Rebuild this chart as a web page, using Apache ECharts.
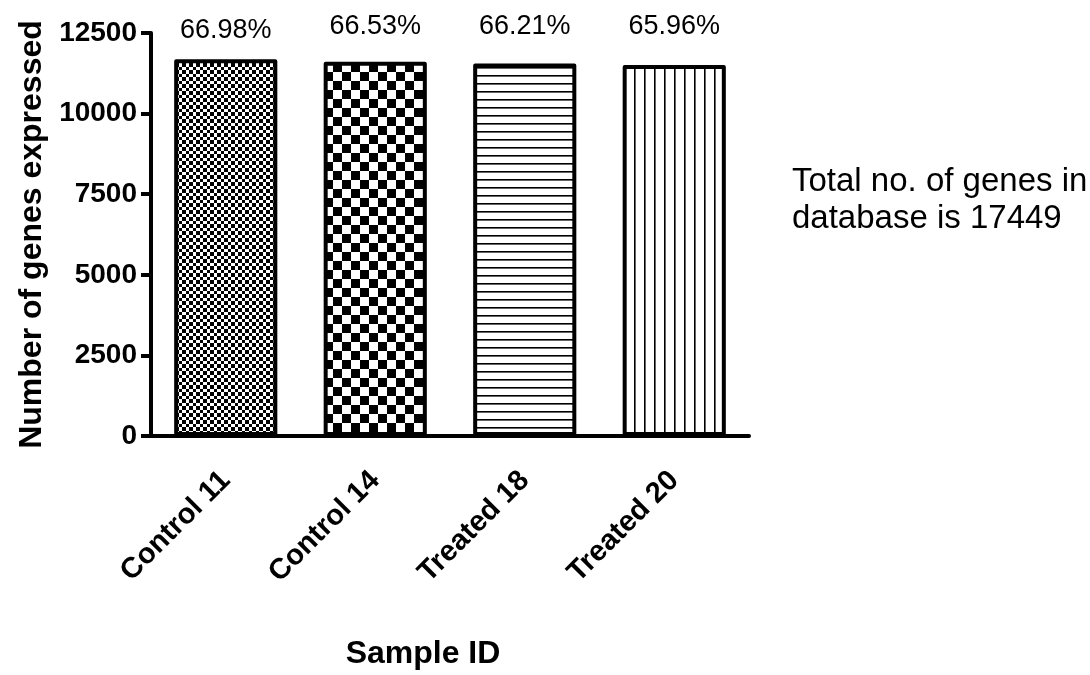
<!DOCTYPE html>
<html>
<head>
<meta charset="utf-8">
<script src="https://cdn.jsdelivr.net/npm/echarts@6/dist/echarts.min.js"></script>
<style>
  html, body { margin: 0; padding: 0; background: #ffffff; }
  #chart { width: 1090px; height: 675px; }
</style>
</head>
<body>
<div id="chart"></div>
<script>
// Genes expressed per sample
const samples = ['Control 11', 'Control 14', 'Treated 18', 'Treated 20'];
const genesExpressed = [11687, 11609, 11553, 11509];
const percentLabels = ['66.98%', '66.53%', '66.21%', '65.96%'];
const totalGenesNote = 'Total no. of genes in\ndatabase is 17449';

const FONT = '"Liberation Sans", Arial, Helvetica, sans-serif';

// Black-and-white fill patterns, one per bar
function makePattern(w, h, draw) {
  const c = document.createElement('canvas');
  c.width = w; c.height = h;
  const g = c.getContext('2d');
  g.fillStyle = '#ffffff';
  g.fillRect(0, 0, w, h);
  g.fillStyle = '#000000';
  draw(g);
  return { image: c, repeat: 'repeat' };
}
const fills = [
  makePattern(7, 7, g => { g.fillRect(0, 0, 4, 4); g.fillRect(4, 4, 3, 3); }),
  makePattern(18, 18, g => { g.fillRect(0, 0, 9, 9); g.fillRect(9, 9, 9, 9); }),
  makePattern(10, 8, g => { g.fillRect(0, 3, 10, 1.6); }),
  makePattern(10, 10, g => { g.fillRect(4, 0, 1.6, 10); })
];

const chart = echarts.init(document.getElementById('chart'), null, { renderer: 'canvas' });

chart.setOption({
  animation: false,
  backgroundColor: '#ffffff',
  grid: { left: 151, right: 341, top: 33, bottom: 234, containLabel: false },
  xAxis: {
    type: 'category',
    data: samples,
    name: 'Sample ID',
    nameLocation: 'middle',
    nameGap: 202,
    nameTextStyle: { fontFamily: FONT, fontWeight: 'bold', fontSize: 32, color: '#000', padding: [0, 54, 0, 0] },
    axisLine: { lineStyle: { color: '#000', width: 4 } },
    axisTick: { alignWithLabel: true, length: 10, lineStyle: { color: '#000', width: 4 } },
    axisLabel: {
      rotate: 45, margin: 40, interval: 0,
      fontFamily: FONT, fontWeight: 'bold', fontSize: 29, color: '#000'
    },
    splitLine: { show: false }
  },
  yAxis: {
    type: 'value',
    min: 0, max: 12500, interval: 2500,
    name: 'Number of genes expressed',
    nameLocation: 'middle',
    nameGap: 100,
    nameTextStyle: { fontFamily: FONT, fontWeight: 'bold', fontSize: 32, color: '#000' },
    axisLine: { show: true, lineStyle: { color: '#000', width: 4 } },
    axisTick: { show: true, length: 10, lineStyle: { color: '#000', width: 4 } },
    axisLabel: {
      margin: 14, formatter: v => String(v),
      fontFamily: FONT, fontWeight: 'bold', fontSize: 28, color: '#000'
    },
    splitLine: { show: false }
  },
  series: [{
    type: 'bar',
    barWidth: '69%',
    data: genesExpressed.map((v, i) => ({ value: v, itemStyle: { color: fills[i] } })),
    itemStyle: { borderColor: '#000', borderWidth: 4, borderJoin: 'round' },
    label: {
      show: true,
      position: 'top',
      formatter: p => percentLabels[p.dataIndex],
      fontFamily: FONT, fontSize: 27, color: '#000'
    },
    labelLayout: p => ({ y: p.dataIndex === 0 ? 31 : 27, align: 'center', verticalAlign: 'middle' })
  }],
  graphic: [{
    type: 'text',
    left: 792,
    top: 163,
    style: {
      text: totalGenesNote,
      fontFamily: FONT, fontSize: 33, lineHeight: 37, fill: '#000'
    }
  }]
});
</script>
</body>
</html>
